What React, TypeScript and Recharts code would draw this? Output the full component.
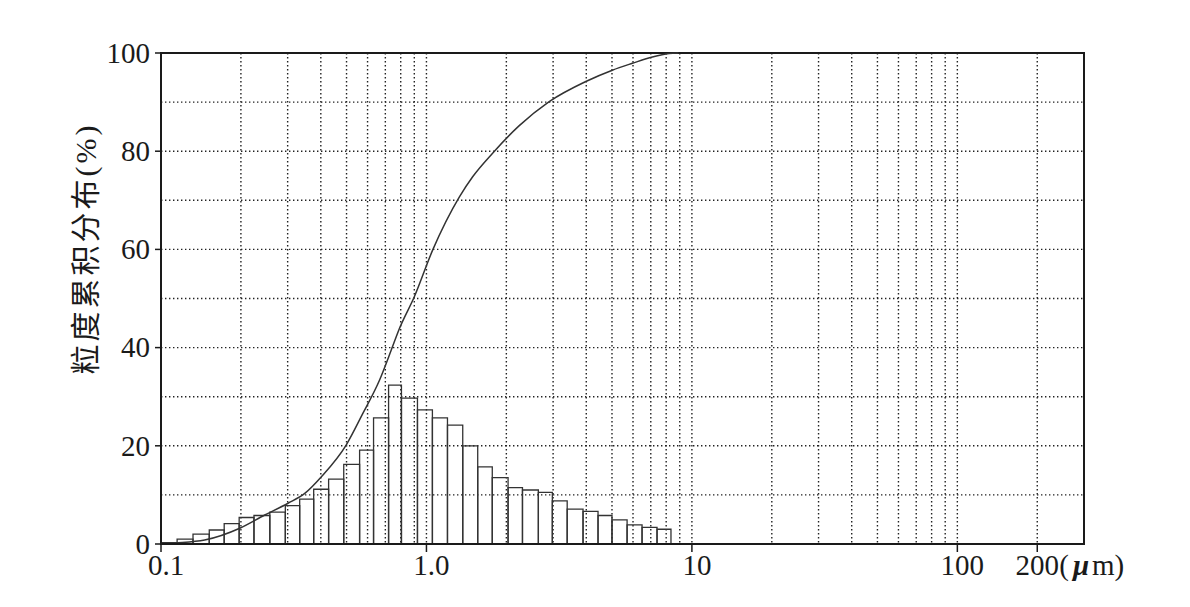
import {
  ComposedChart,
  Line,
  XAxis,
  YAxis,
  CartesianGrid,
  ReferenceArea,
  Label,
} from "recharts";

// histogram bin edges (µm), log spaced
const binEdges = [
  0.1, 0.115, 0.132, 0.152, 0.173, 0.197, 0.224, 0.257, 0.294, 0.333, 0.376,
  0.428, 0.488, 0.56, 0.632, 0.72, 0.805, 0.925, 1.053, 1.2, 1.37, 1.56, 1.77,
  2.03, 2.3, 2.64, 2.98, 3.39, 3.89, 4.43, 5.0, 5.7, 6.49, 7.39, 8.34,
];

// bar heights per bin
const binValues = [
  0.3, 1.0, 2.0, 2.85, 4.15, 5.4, 5.8, 6.5, 7.8, 9.15, 11.15, 13.2, 16.2, 19.1,
  25.7, 32.35, 29.7, 27.3, 25.7, 24.2, 20.0, 15.7, 13.5, 11.5, 11.0, 10.5, 8.8,
  7.1, 6.65, 5.8, 4.9, 3.9, 3.4, 3.0,
];

// cumulative curve
const curveSizes = [
  0.1, 0.113, 0.146, 0.198, 0.246, 0.301, 0.348, 0.402, 0.499, 0.576, 0.666,
  0.737, 0.787, 0.901, 1.056, 1.331, 1.493, 1.775, 2.237, 2.9, 3.985, 5.015,
  5.966, 7.094, 8.195, 8.9,
];
const curveValues = [
  0, 0.2, 0.8, 3.2, 5.9, 8.3, 10.3, 13.7, 20.2, 26.6, 33.4, 39.5, 43.6, 50.4,
  59.9, 70.7, 74.8, 79.6, 85.2, 90.1, 94.2, 96.5, 97.9, 99.2, 99.9, 100,
];

const xTicks = [0.1, 1, 10, 100, 200];
const yTicks = [0, 20, 40, 60, 80, 100];
const xGrid = [
  0.2, 0.3, 0.4, 0.5, 0.6, 0.7, 0.8, 0.9, 1, 2, 3, 4, 5, 6, 7, 8, 9, 10, 20,
  30, 40, 50, 60, 70, 80, 90, 100, 200,
];
const yGrid = [10, 20, 30, 40, 50, 60, 70, 80, 90];

const curveData = curveSizes.map((x, i) => ({ x, cum: curveValues[i] }));
const bins = binValues.map((v, i) => ({
  lo: binEdges[i],
  hi: binEdges[i + 1],
  v,
}));

const FONT = "'Liberation Serif', 'Noto Sans CJK SC', serif";
const INK = "#1a1a1a";

function XTick({ x, y, payload }: any) {
  const v = payload.value;
  if (v === 200) {
    return (
      <g>
        <text x={x} y={y + 21} textAnchor="middle" fontSize={29} fontFamily={FONT} fill={INK}>
          200
        </text>
        <text x={x + 22} y={y + 21} textAnchor="start" fontSize={29} fontFamily={FONT} fill={INK}>
          (<tspan dx={4} fontWeight="bold" fontStyle="italic">μ</tspan>
          <tspan dx={3}>m)</tspan>
        </text>
      </g>
    );
  }
  const label = v === 1 ? "1.0" : String(v);
  return (
    <text x={x + 5} y={y + 21} textAnchor="middle" fontSize={29} fontFamily={FONT} fill={INK}>
      {label}
    </text>
  );
}

function YTick({ x, y, payload }: any) {
  return (
    <text x={x - 3} y={y} dy="0.34em" textAnchor="end" fontSize={29} fontFamily={FONT} fill={INK}>
      {payload.value}
    </text>
  );
}

function YLabel({ viewBox }: any) {
  const cx = viewBox.x + 77;
  const cy = viewBox.y + viewBox.height / 2 - 50;
  return (
    <text
      x={cx}
      y={cy}
      transform={`rotate(-90 ${cx} ${cy})`}
      textAnchor="middle"
      dominantBaseline="central"
      fontSize={30}
      letterSpacing={3}
      fontFamily={FONT}
      fill={INK}
    >
      粒度累积分布(%)
    </text>
  );
}

export default function App() {
  return (
    <div style={{ width: 1174, height: 595, background: "#fff" }}>
      <ComposedChart
        width={1174}
        height={595}
        margin={{ top: 45, right: 98, left: 0, bottom: 0 }}
      >
        <CartesianGrid
          verticalValues={xGrid}
          horizontalValues={yGrid}
          stroke="#222"
          strokeWidth={1.4}
          strokeDasharray="1.4 2.6"
        />
        <XAxis
          type="number"
          dataKey="x"
          scale="log"
          domain={[0.1, 300]}
          allowDataOverflow
          ticks={xTicks}
          interval={0}
          height={59}
          tickSize={8}
          tickMargin={2}
          tick={<XTick />}
          axisLine={{ stroke: INK, strokeWidth: 2 }}
          tickLine={{ stroke: INK, strokeWidth: 1.5 }}
        />
        <YAxis
          type="number"
          domain={[0, 100]}
          ticks={yTicks}
          interval={0}
          width={153}
          tickSize={6}
          tickMargin={2}
          tick={<YTick />}
          axisLine={{ stroke: INK, strokeWidth: 2 }}
          tickLine={{ stroke: INK, strokeWidth: 1.5 }}
        >
          <Label content={<YLabel />} />
        </YAxis>
        {bins.map((b, i) => (
          <ReferenceArea
            key={i}
            x1={b.lo}
            x2={b.hi}
            y1={0}
            y2={b.v}
            fill="none"
            fillOpacity={0}
            stroke="#333"
            strokeWidth={1.3}
          />
        ))}
        <Line
          data={curveData}
          dataKey="cum"
          type="monotone"
          stroke="#333"
          strokeWidth={1.5}
          dot={false}
          isAnimationActive={false}
        />
        <ReferenceArea
          x1={0.1}
          x2={300}
          y1={0}
          y2={100}
          fill="none"
          fillOpacity={0}
          stroke={INK}
          strokeWidth={2}
        />
      </ComposedChart>
    </div>
  );
}
